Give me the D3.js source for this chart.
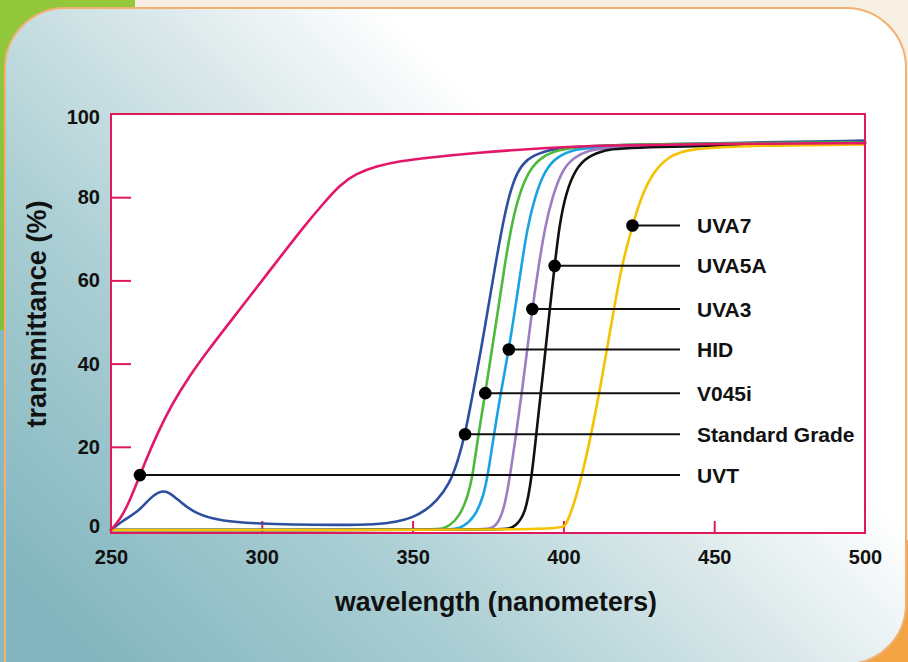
<!DOCTYPE html>
<html><head><meta charset="utf-8">
<script src="https://cdn.jsdelivr.net/npm/d3@7"></script>
<style>html,body{margin:0;padding:0;background:#fff;overflow:hidden} svg{display:block}</style>
</head><body><svg id="c" width="908" height="662"></svg>
<script>
// ---------------- data ----------------
const xTicks = [250, 300, 350, 400, 450, 500];
const yTicks = [0, 20, 40, 60, 80, 100];
const xTitle = "wavelength (nanometers)";
const yTitle = "transmittance (%)";

// each series: [wavelength nm, transmittance %]
const standardGrade = [[250,0],[253.8,2.2],[259.3,4.5],[263,7.8],[266.8,9.6],[269.5,9.0],[272.6,7],[278.1,3.8],[287,2.1],[298,1.6],[310,1.3],[325,1.2],[338,1.3],[345,2],[350,3],[354,4.6],[358,7],[362.2,11],[365,16.5],[367.4,23],[370,32.9],[372.7,43.4],[375,53.2],[377.4,63.5],[379.6,72.5],[381.8,80],[384.5,86],[388,89.3],[393.2,91],[400,92],[420,92.6],[460,93.1],[500,93.6]];
const v045i = [[250,0],[356,0],[360,0.3],[362.2,1],[365.5,3.2],[368.3,8],[370,13.4],[371.8,23],[374.1,32.9],[376.3,43.4],[378.4,53.2],[380.5,63.5],[382.6,72.5],[385,80],[388.5,86.5],[393,89.8],[398,91.3],[405,92.2],[430,92.8],[500,93.2]];
const hid = [[250,0],[361,0],[364,0.3],[366.6,0.7],[370.5,3],[373.4,7.8],[375,13.4],[377,23],[379.2,32.9],[381.9,43.4],[384,53.2],[386.1,63.5],[388,72.5],[390.5,80],[393.8,86.5],[398,89.8],[403,91.3],[410,92.3],[500,93]];
const uva3 = [[250,0],[372,0],[375.5,0.3],[377.7,0.9],[380.3,4.6],[382.4,13.4],[384.3,23],[386.2,32.9],[388,43.4],[389.7,53.2],[391.8,63.5],[393.8,72.5],[396.3,80],[399.5,86.5],[403.5,89.6],[408,91.2],[415,92.2],[500,93]];
const uva5a = [[250,0],[379,0],[382,0.3],[384,0.9],[387.5,3.8],[389.6,13.4],[391,23],[392.5,32.9],[394.1,43.4],[395.5,53.2],[397.1,63.5],[398.6,73],[400.8,81],[404,86.8],[408,89.8],[414,91.4],[420,92],[500,93]];
const uva7 = [[250,0],[399.3,0],[400.6,0.8],[403.2,5.4],[406.3,13.4],[409.2,23],[411.9,32.9],[414.4,43.4],[416.8,53.2],[419.3,63.5],[422.9,73.2],[426,80.6],[430.2,86.5],[435,89.8],[441,91.6],[460,92.4],[500,92.7]];
const uvt = [[250,0],[253,2.5],[256,6.6],[259.6,13.2],[262,17.5],[265,22.6],[270,30],[276,37],[282,43],[290,50.5],[298,58],[306,65.5],[314,73],[321,79],[326,83],[331,85.6],[338,87.5],[346,88.7],[355,89.5],[370,90.6],[392,91.8],[414,92.5],[450,92.8],[500,93]];

const seriesNames = ["Standard Grade", "V045i", "HID", "UVA3", "UVA5A", "UVA7", "UVT"];
const seriesData = [standardGrade, v045i, hid, uva3, uva5a, uva7, uvt];
const seriesColors = ["#2e4f9e", "#4cba3a", "#1aa3e2", "#9c7fc0", "#111111", "#f5c200", "#e3176a"];

// label markers (top to bottom)
const labelNames = ["UVA7", "UVA5A", "UVA3", "HID", "V045i", "Standard Grade", "UVT"];
const markerNm  = [422.9, 397.1, 389.7, 381.9, 374.1, 367.4, 259.6];
const markerVal = [73.2, 63.5, 53.1, 43.4, 32.9, 23.0, 13.2];

// ---------------- layout ----------------
const W = 908, H = 662;
const plot = {left: 111, right: 865, top: 114, bottom: 530};
const frameBottom = 533;
const leaderEnd = 680, labelX = 697;
const frameColor = "#e0185c";
const font = "'Liberation Sans', Arial, Helvetica, sans-serif";

const svg = d3.select("#c");
const defs = svg.append("defs");

// background pieces
const gGrad = defs.append("linearGradient").attr("id","green").attr("x1",0).attr("y1",0).attr("x2",0).attr("y2",1);
gGrad.append("stop").attr("offset",0).attr("stop-color","#93c83a");
gGrad.append("stop").attr("offset",1).attr("stop-color","#7fbf3a");
svg.append("rect").attr("x",0).attr("y",0).attr("width",W).attr("height",H).attr("fill","#f7efe2");
svg.append("rect").attr("x",0).attr("y",0).attr("width",135).attr("height",340).attr("fill","url(#green)");
svg.append("rect").attr("x",0).attr("y",330).attr("width",20).attr("height",H-330).attr("fill","#86b8c0");
svg.append("rect").attr("x",760).attr("y",540).attr("width",W-760).attr("height",H-540).attr("fill","#f2a444");

const pGrad = defs.append("linearGradient").attr("id","panel").attr("gradientUnits","userSpaceOnUse")
  .attr("x1",90).attr("y1",650).attr("x2",560).attr("y2",180);
pGrad.append("stop").attr("offset",0).attr("stop-color","#84b6bf");
pGrad.append("stop").attr("offset",0.4).attr("stop-color","#a9ced3");
pGrad.append("stop").attr("offset",0.75).attr("stop-color","#dce9eb");
pGrad.append("stop").attr("offset",1).attr("stop-color","#ffffff");

const pl = 5, pt = 8, pr = 906, pb = 664, rr = 60;
svg.append("path")
  .attr("d", `M${pl},${pt+rr} A${rr},${rr} 0 0 1 ${pl+rr},${pt} L${pr-rr},${pt} A${rr},${rr} 0 0 1 ${pr},${pt+rr} L${pr},${pb-rr} A${rr},${rr} 0 0 1 ${pr-rr},${pb} L${pl},${pb} Z`)
  .attr("fill","url(#panel)").attr("stroke","#f1b173").attr("stroke-width",2);

// scales
const x = d3.scaleLinear().domain([250, 500]).range([plot.left, plot.right]);
const y = d3.scaleLinear().domain([0, 100]).range([plot.bottom, plot.top]);

// plot background
svg.append("rect").attr("x",plot.left).attr("y",plot.top)
  .attr("width",plot.right-plot.left).attr("height",frameBottom-plot.top).attr("fill","#ffffff");

// axes (inward ticks)
const xAxis = svg.append("g").attr("transform",`translate(0,${frameBottom})`)
  .call(d3.axisBottom(x).tickValues(xTicks).tickFormat(d3.format("d")).tickSize(-12).tickPadding(17));
const yAxis = svg.append("g").attr("transform",`translate(${plot.left},0)`)
  .call(d3.axisLeft(y).tickValues(yTicks).tickFormat(d3.format("d")).tickSize(-20).tickPadding(11));
[xAxis, yAxis].forEach(a => {
  a.select(".domain").remove();
  a.selectAll(".tick line").attr("stroke", frameColor).attr("stroke-width", 2);
  a.selectAll(".tick text").attr("fill","#111").attr("font-family",font).attr("font-weight","bold").attr("font-size",20);
});
xAxis.selectAll(".tick").filter(d => d === 250 || d === 500).select("line").remove();
yAxis.selectAll(".tick").filter(d => d === 0 || d === 100).select("line").remove();
yAxis.selectAll(".tick text").filter(d => d === 0).attr("dy","0.1em");
yAxis.selectAll(".tick text").filter(d => d === 100).attr("dy","0.45em");

// curves
const line = d3.line().x(d => x(d[0])).y(d => y(d[1])).curve(d3.curveBasis);
const curves = svg.append("g").attr("fill","none").attr("stroke-width",2.6).attr("stroke-linejoin","round").attr("stroke-linecap","round");
seriesData.forEach((s, i) => {
  curves.append("path").attr("d", line(s)).attr("stroke", seriesColors[i]);
});

// frame
svg.append("rect").attr("x",plot.left).attr("y",plot.top)
  .attr("width",plot.right-plot.left).attr("height",frameBottom-plot.top)
  .attr("fill","none").attr("stroke",frameColor).attr("stroke-width",2);

// leaders, dots, labels
const lab = svg.append("g");
labelNames.forEach((n, i) => {
  const cx = x(markerNm[i]), cy = y(markerVal[i]);
  lab.append("line").attr("x1",cx).attr("x2",leaderEnd).attr("y1",cy).attr("y2",cy)
    .attr("stroke","#111").attr("stroke-width",2);
  lab.append("circle").attr("cx",cx).attr("cy",cy).attr("r",6.3).attr("fill","#000");
  lab.append("text").attr("x",labelX).attr("y",cy).attr("dy","0.36em")
    .attr("font-family",font).attr("font-weight","bold").attr("font-size",21).attr("fill","#111").text(n);
});

// axis titles
svg.append("text").attr("x",(plot.left+plot.right)/2 + 8).attr("y",611)
  .attr("text-anchor","middle").attr("font-family",font).attr("font-weight","bold").attr("font-size",28)
  .attr("textLength",322).attr("lengthAdjust","spacingAndGlyphs").attr("fill","#111").text(xTitle);
svg.append("text").attr("transform",`translate(46,314) rotate(-90)`)
  .attr("text-anchor","middle").attr("font-family",font).attr("font-weight","bold").attr("font-size",28)
  .attr("textLength",227).attr("lengthAdjust","spacingAndGlyphs").attr("fill","#111").text(yTitle);
</script>
</body></html>
